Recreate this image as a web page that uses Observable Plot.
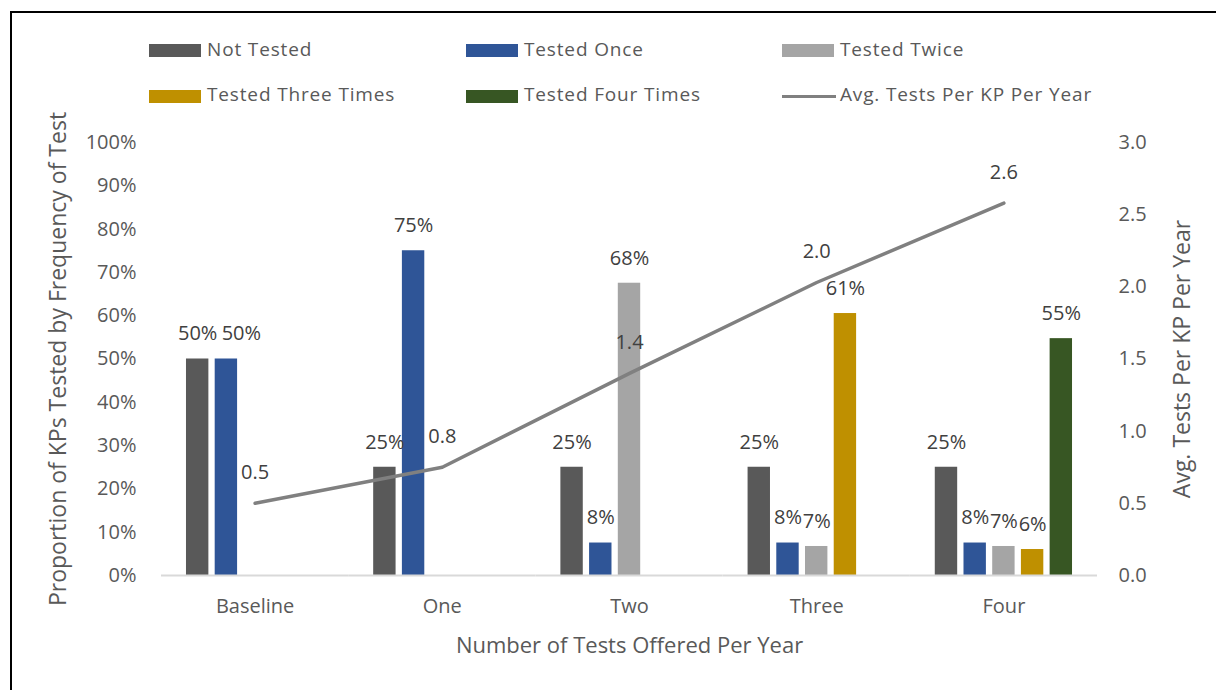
<!DOCTYPE html>
<html>
<head>
<meta charset="utf-8">
<script src="https://cdn.jsdelivr.net/npm/d3@7"></script>
<script src="https://cdn.jsdelivr.net/npm/@observablehq/plot@0.6"></script>
<style>
  html, body { margin: 0; padding: 0; background: #fff; overflow: hidden; }
  #wrap { position: relative; width: 1216px; height: 690px; overflow: hidden; font-family: "Open Sans", sans-serif; }
  #frame { position: absolute; left: 10px; top: 11px; width: 1400px; height: 900px; border: 2.5px solid #000; box-sizing: border-box; }
  .layer { position: absolute; left: 0; top: 0; }
  .leg { position: absolute; font-size: 19px; color: #595959; letter-spacing: 0.85px; white-space: nowrap; line-height: 1; }
  .sw { position: absolute; }
</style>
</head>
<body>
<div id="wrap">
  <div id="frame"></div>
  <div id="legend"></div>
  <div id="bars" class="layer"></div>
  <div id="line" class="layer"></div>
</div>
<script>
// ---- data ----
const categories = ["Baseline", "One", "Two", "Three", "Four"];
const seriesNames = ["Not Tested", "Tested Once", "Tested Twice", "Tested Three Times", "Tested Four Times"];
const seriesColors = ["#595959", "#2F5597", "#A5A5A5", "#BF9000", "#375623"];
const notTested    = [0.50, 0.25, 0.25, 0.25, 0.25];
const testedOnce   = [0.50, 0.75, 0.075, 0.075, 0.075];
const testedTwice  = [null, null, 0.675, 0.067, 0.067];
const testedThree  = [null, null, null, 0.605, 0.06];
const testedFour   = [null, null, null, null, 0.547];
const avgTests     = [0.5, 0.75, 1.4, 2.03, 2.58];
const lineName = "Avg. Tests Per KP Per Year";
const yTicksLeft = [0, 0.1, 0.2, 0.3, 0.4, 0.5, 0.6, 0.7, 0.8, 0.9, 1.0];
const yTicksRight = [0, 0.5, 1.0, 1.5, 2.0, 2.5, 3.0];

const seriesValues = [notTested, testedOnce, testedTwice, testedThree, testedFour];
const barData = [];
categories.forEach((c, i) => {
  seriesNames.forEach((s, j) => {
    const v = seriesValues[j][i];
    if (v != null) barData.push({category: c, series: s, value: v});
  });
});
const lineData = categories.map((c, i) => ({category: c, value: avgTests[i]}));
// the one data label that the reference nudges aside to avoid its neighbour
const isNudged = d => d.category === "Baseline" && d.series === "Tested Once";

const W = 1216, H = 690;
const M = {left: 161, right: 119, top: 142, bottom: 115};
const fontStyle = {fontFamily: "Open Sans, sans-serif", fontSize: "20px", color: "#595959", background: "transparent", overflow: "visible"};
const pct = d3.format(".0%");

// ---- bars ----
const barPlot = Plot.plot({
  width: W, height: H,
  marginLeft: M.left, marginRight: M.right, marginTop: M.top, marginBottom: M.bottom,
  style: fontStyle,
  fx: {domain: categories, padding: 0, round: false, label: null},
  x: {domain: seriesNames, paddingInner: 0.22, paddingOuter: 0.87, round: false, axis: null},
  y: {domain: [0, 1], axis: null},
  color: {domain: seriesNames, range: seriesColors},
  marks: [
    Plot.barY(barData, {fx: "category", x: "series", y: "value", fill: "series", inset: 0}),
    Plot.text(barData.filter(d => !isNudged(d)), {fx: "category", x: "series", y: "value", text: d => pct(d.value), dy: -25, fill: "#404040", fontSize: 20}),
    Plot.text(barData.filter(isNudged), {fx: "category", x: "series", y: "value", text: d => pct(d.value), dy: -25, dx: 15, fill: "#404040", fontSize: 20}),
    Plot.ruleY([0], {stroke: "#D9D9D9", strokeWidth: 2}),
    Plot.axisFx({anchor: "bottom", tickSize: 0, tickPadding: 23, fontSize: 20, fill: "#595959", label: null}),
    Plot.axisFx({anchor: "bottom", tickSize: 0, ticks: [], fontSize: 22, fill: "#595959",
      label: "Number of Tests Offered Per Year", labelAnchor: "center", labelArrow: "none", labelOffset: 77}),
    Plot.axisY(yTicksLeft, {anchor: "left", tickSize: 0, tickPadding: 25, tickFormat: pct, fontSize: 20, fill: "#595959", label: null}),
    Plot.axisY({anchor: "left", tickSize: 0, ticks: [], fontSize: 23, fill: "#595959",
      label: "Proportion of KPs Tested by Frequency of Test", labelAnchor: "center", labelArrow: "none", labelOffset: 112})
  ]
});
document.getElementById("bars").appendChild(barPlot);

// ---- line (secondary axis) ----
const linePlot = Plot.plot({
  width: W, height: H,
  marginLeft: M.left, marginRight: M.right, marginTop: M.top, marginBottom: M.bottom,
  style: fontStyle,
  x: {type: "point", domain: categories, padding: 0.5, round: false, axis: null},
  y: {domain: [0, 3], axis: null},
  marks: [
    Plot.line(lineData, {x: "category", y: "value", stroke: "#808080", strokeWidth: 3.5, strokeLinecap: "round", strokeLinejoin: "round"}),
    Plot.text(lineData, {x: "category", y: "value", text: d => d.value.toFixed(1), dy: -31, fill: "#404040", fontSize: 20}),
    Plot.axisY(yTicksRight, {anchor: "right", tickSize: 0, tickPadding: 21, tickFormat: d => d.toFixed(1), fontSize: 20, fill: "#595959", label: null}),
    Plot.axisY({anchor: "right", tickSize: 0, ticks: [], fontSize: 23, fill: "#595959",
      label: lineName, labelAnchor: "center", labelArrow: "none", labelOffset: 92})
  ]
});
document.getElementById("line").appendChild(linePlot);

// ---- legend ----
const legend = document.getElementById("legend");
const legItems = seriesNames.map((s, i) => ({name: s, color: seriesColors[i], kind: "bar"}))
  .concat([{name: lineName, color: "#808080", kind: "line"}]);
const cols = [149, 466, 782];
const rows = [50.5, 96];
legItems.forEach((it, idx) => {
  const cx = cols[idx % 3], cy = rows[Math.floor(idx / 3)];
  const sw = document.createElement("div");
  sw.className = "sw";
  if (it.kind === "bar") {
    Object.assign(sw.style, {left: cx + "px", top: (cy - 6.5) + "px", width: "52px", height: "13px", background: it.color});
  } else {
    Object.assign(sw.style, {left: cx + "px", top: (cy - 1.5) + "px", width: "54px", height: "3px", background: it.color});
  }
  legend.appendChild(sw);
  const t = document.createElement("div");
  t.className = "leg";
  t.textContent = it.name;
  Object.assign(t.style, {left: (cx + 58) + "px", top: (cy - 11) + "px"});
  legend.appendChild(t);
});
</script>
</body>
</html>
